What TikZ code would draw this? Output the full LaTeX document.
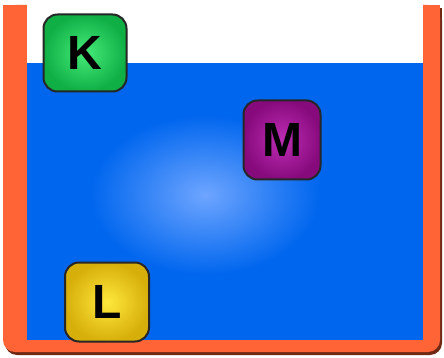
\documentclass[tikz,border=0pt]{standalone}
\usepackage{fontspec}
\setmainfont{Liberation Sans}
\definecolor{water}{RGB}{0,102,238}
\definecolor{glow}{RGB}{110,165,255}
\definecolor{wall}{RGB}{255,100,55}
\definecolor{walldark}{RGB}{110,40,20}
\definecolor{greenin}{RGB}{70,235,120}
\definecolor{greenout}{RGB}{15,175,70}
\definecolor{magin}{RGB}{190,45,180}
\definecolor{magout}{RGB}{135,10,125}
\definecolor{yelin}{RGB}{255,232,60}
\definecolor{yelout}{RGB}{215,175,10}
\tikzset{
  blockbox/.style={rounded corners=14pt, draw=black!85, line width=2pt,
    minimum width=83pt, minimum height=77pt, inner sep=0pt,
    font=\fontsize{48}{48}\selectfont\bfseries, text=black},
}
\begin{document}
\begin{tikzpicture}[x=1pt,y=-1pt]
\useasboundingbox (0,0) rectangle (444,358);
\fill[white] (0,0) rectangle (444,358);
% container shadow
\fill[walldark, rounded corners=12pt] (5,8) rectangle (442,355);
\fill[walldark] (5,8) rectangle (442,40);
% container walls
\fill[wall, rounded corners=12pt] (3,5) rectangle (440,352);
\fill[wall] (3,5) rectangle (440,40);
% inner
\fill[white] (27,0) rectangle (423,63);
% water
\begin{scope}
\clip (27,63) rectangle (423,340);
\fill[water] (27,63) rectangle (423,340);
\shade[inner color=glow, outer color=water] (205,195) ellipse (115pt and 80pt);
\end{scope}
% blocks
\node[blockbox, inner color=greenin, outer color=greenout] (K) at (85,53) {K};
\node[blockbox, inner color=magin, outer color=magout, minimum width=77pt, minimum height=79pt] (M) at (282,140) {M};
\node[blockbox, inner color=yelin, outer color=yelout, minimum width=84pt, minimum height=79pt] (L) at (107,302) {L};
\end{tikzpicture}
\end{document}
